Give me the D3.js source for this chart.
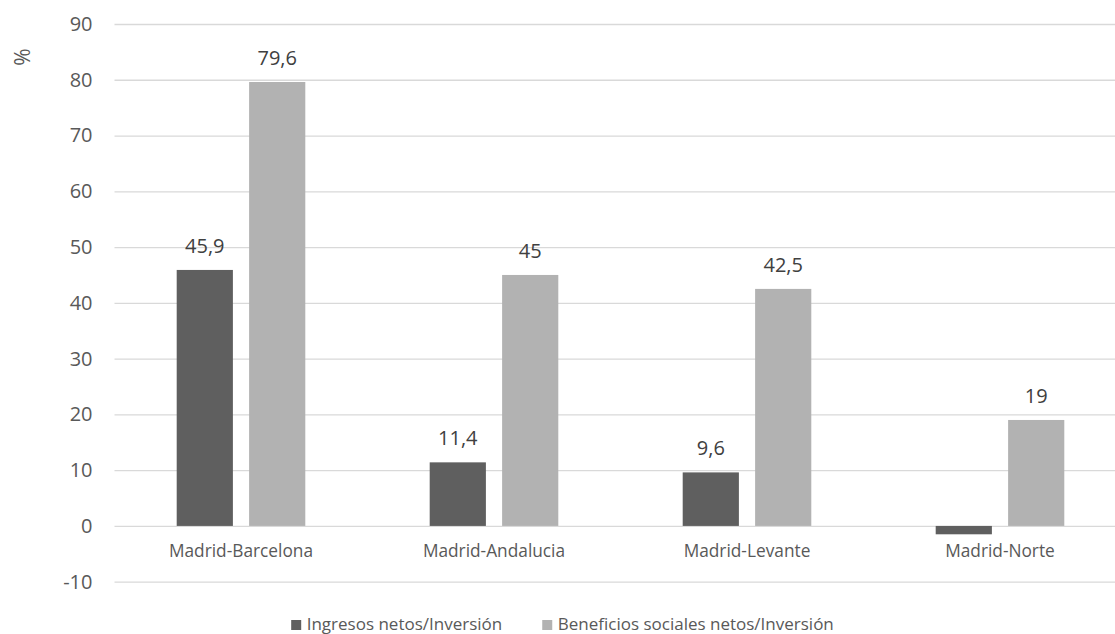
<!DOCTYPE html>
<html><head><meta charset="utf-8">
<script src="https://cdn.jsdelivr.net/npm/d3@7"></script>
<style>html,body{margin:0;padding:0;background:#fff;}svg{display:block;}</style>
</head><body>
<svg id="chart" width="1115" height="634"></svg>
<script>
const categories = ["Madrid-Barcelona", "Madrid-Andalucia", "Madrid-Levante", "Madrid-Norte"];
const seriesNames = ["Ingresos netos/Inversión", "Beneficios sociales netos/Inversión"];
const ingresos = [45.9, 11.4, 9.6, -1.5];
const beneficios = [79.6, 45, 42.5, 19];
const ingresosLabels = ["45,9", "11,4", "9,6", ""];
const beneficiosLabels = ["79,6", "45", "42,5", "19"];
const yTicks = [-10, 0, 10, 20, 30, 40, 50, 60, 70, 80, 90];
const colors = ["#5f5f5f", "#b2b2b2"];

const svg = d3.select("#chart");
const font = "'Open Sans', sans-serif";
const textColor = "#595959";

const x0 = d3.scaleBand().domain(categories).range([114.5, 1126.5]).paddingInner(0).paddingOuter(0);
const x1 = d3.scaleBand().domain(seriesNames).range([0, x0.bandwidth()]).paddingInner(0.224).paddingOuter(0.859);
const y = d3.scaleLinear().domain([-10, 90]).range([581.7, 24]);

// gridlines + tick labels via axis
const yAxis = d3.axisLeft(y).tickValues(yTicks).tickSize(-(1126.5 - 114.5)).tickPadding(22).tickFormat(d => d);
const gAxis = svg.append("g").attr("transform", "translate(114.5,0)").call(yAxis);
gAxis.select(".domain").remove();
gAxis.selectAll(".tick line").attr("stroke", "#d9d9d9").attr("stroke-width", 1.3);
gAxis.selectAll(".tick text").attr("fill", textColor).style("font-family", font).style("font-size", "20px");

const data = [ingresos, beneficios];
const labels = [ingresosLabels, beneficiosLabels];

seriesNames.forEach((s, si) => {
  const g = svg.append("g");
  g.selectAll("rect").data(categories).enter().append("rect")
    .attr("x", c => x0(c) + x1(s))
    .attr("width", x1.bandwidth())
    .attr("y", (c, i) => y(Math.max(0, data[si][i])))
    .attr("height", (c, i) => Math.abs(y(data[si][i]) - y(0)))
    .attr("fill", colors[si]);
  g.selectAll("text").data(categories).enter().append("text")
    .attr("x", c => x0(c) + x1(s) + x1.bandwidth() / 2)
    .attr("y", (c, i) => y(Math.max(0, data[si][i])) - 17)
    .attr("text-anchor", "middle")
    .attr("fill", "#404040")
    .style("font-family", font).style("font-size", "20px")
    .text((c, i) => labels[si][i]);
});

// category labels
svg.append("g").selectAll("text").data(categories).enter().append("text")
  .attr("x", c => x0(c) + x1(seriesNames[0]) + (x1(seriesNames[1]) + x1.bandwidth() - x1(seriesNames[0])) / 2)
  .attr("y", 556.5)
  .attr("text-anchor", "middle")
  .attr("fill", textColor)
  .style("font-family", font).style("font-size", "17.3px")
  .text(c => c);

// y title
svg.append("text")
  .attr("transform", "translate(30,57) rotate(-90)")
  .attr("text-anchor", "middle")
  .attr("fill", textColor)
  .style("font-family", font).style("font-size", "21px")
  .text("%");

// legend
const legend = svg.append("g");
const items = [];
seriesNames.forEach((s, i) => {
  const it = legend.append("g");
  it.append("rect").attr("width", 10).attr("height", 10).attr("y", -10).attr("fill", colors[i]);
  it.append("text").attr("x", 15.5).attr("y", 0)
    .attr("fill", textColor)
    .style("font-family", font).style("font-size", "17px")
    .text(s);
  items.push(it);
});
let widths = items.map(it => 15.5 + it.select("text").node().getComputedTextLength());
const gapL = 40;
let total = widths[0] + gapL + widths[1];
let start = 562.5 - total / 2;
items[0].attr("transform", `translate(${start},630)`);
items[1].attr("transform", `translate(${start + widths[0] + gapL},630)`);
</script>
</body></html>
